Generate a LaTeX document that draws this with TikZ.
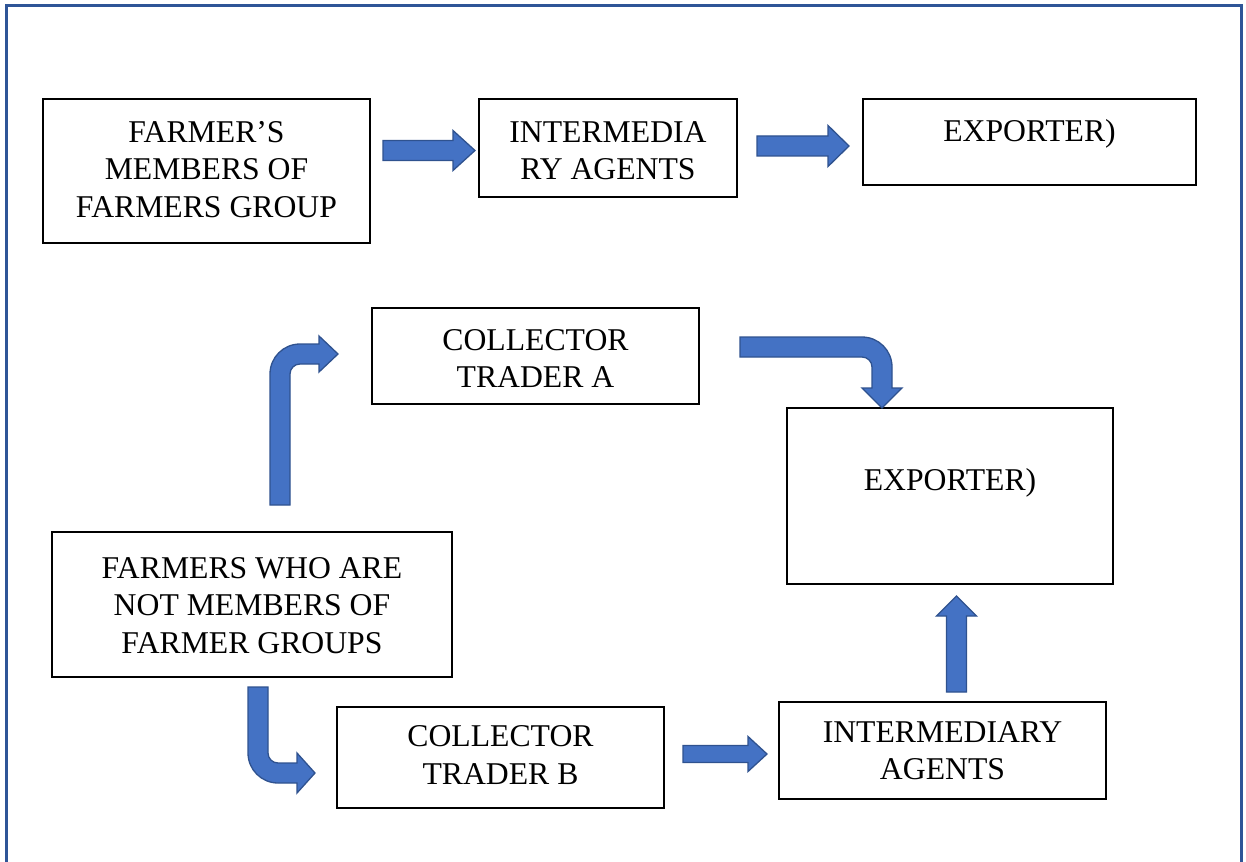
\documentclass[tikz,border=0pt]{standalone}
\usepackage{fontspec}
\setmainfont{Liberation Serif}
\definecolor{arrowfill}{HTML}{4472C4}
\definecolor{arrowline}{HTML}{2F528F}
\definecolor{framecol}{HTML}{2F5597}
\begin{document}
\begin{tikzpicture}[x=1pt,y=-1pt,
  box/.style={draw=black, line width=2pt, inner sep=0pt, fill=white},
  lbl/.style={align=center, inner sep=0pt, font=\fontsize{31.7}{37.5}\selectfont},
  blockarrow/.style={fill=arrowfill, draw=arrowline, line width=1.3pt, line join=miter},
  frame/.style={draw=framecol, line width=3pt}]
\useasboundingbox (0,0) rectangle (1246,861);
\draw[frame] (6,875) -- (6,6) -- (1241.5,6) -- (1241.5,875);

% boxes
\node[box, minimum width=327, minimum height=144] (b1) at (206.5,171) {};
\node[box, minimum width=258, minimum height=98] (b2) at (608,148) {};
\node[box, minimum width=333, minimum height=86] (b3) at (1029.5,142) {};
\node[box, minimum width=327, minimum height=96] (b4) at (535.5,356) {};
\node[box, minimum width=326, minimum height=176] (b5) at (950,496) {};
\node[box, minimum width=400, minimum height=145] (b6) at (252,604.5) {};
\node[box, minimum width=327, minimum height=101] (b7) at (500.5,757.5) {};
\node[box, minimum width=327, minimum height=97] (b8) at (942.5,750.5) {};

% labels
\node[lbl] (t1) at (206.5,169.5) {FARMER’S\\MEMBERS OF\\FARMERS GROUP};
\node[lbl] (t2) at (608,150.5) {INTERMEDIA\\RY AGENTS};
\node[lbl] (t3) at (1029.5,133.5) {EXPORTER)};
\node[lbl] (t4) at (535.5,358.5) {COLLECTOR\\TRADER A};
\node[lbl] (t5) at (950,482.5) {EXPORTER)};
\node[lbl] (t6) at (252,605.5) {FARMERS WHO ARE\\NOT MEMBERS OF\\FARMER GROUPS};
\node[lbl] (t7) at (500.5,755) {COLLECTOR\\TRADER B};
\node[lbl] (t8) at (942.5,750.5) {INTERMEDIARY\\AGENTS};

% straight block arrows
\draw[blockarrow] (383,140.5) -- (453,140.5) -- (453,130.5) -- (475,150.5) -- (453,170.5) -- (453,160.5) -- (383,160.5) -- cycle;
\draw[blockarrow] (757,136) -- (828,136) -- (828,125.5) -- (849,146) -- (828,166.5) -- (828,156) -- (757,156) -- cycle;
\draw[blockarrow] (683,745.5) -- (748,745.5) -- (748,736.5) -- (767,754) -- (748,771.5) -- (748,762.5) -- (683,762.5) -- cycle;
\draw[blockarrow] (946.5,692) -- (946.5,616) -- (936.5,616) -- (956.5,596) -- (976.5,616) -- (966.5,616) -- (966.5,692) -- cycle;

% bent block arrows
\draw[blockarrow] (270,505) -- (270,374) .. controls (270,357.4) and (283.4,344) .. (300,344) -- (319,344) -- (319,336) -- (338,354) -- (319,372) -- (319,364) -- (300,364) .. controls (294.5,364) and (290,368.5) .. (290,374) -- (290,505) -- cycle;
\draw[blockarrow] (740,337) -- (862,337) .. controls (878.6,337) and (892,350.4) .. (892,367) -- (892,388) -- (902,388) -- (882,408) -- (862,388) -- (872,388) -- (872,367) .. controls (872,361.5) and (867.5,357) .. (862,357) -- (740,357) -- cycle;
\draw[blockarrow] (248,687) -- (248,753) .. controls (248,769.6) and (261.4,783) .. (278,783) -- (297,783) -- (297,793) -- (315,773) -- (297,753) -- (297,763) -- (278,763) .. controls (272.5,763) and (268,758.5) .. (268,753) -- (268,687) -- cycle;
\end{tikzpicture}
\end{document}
